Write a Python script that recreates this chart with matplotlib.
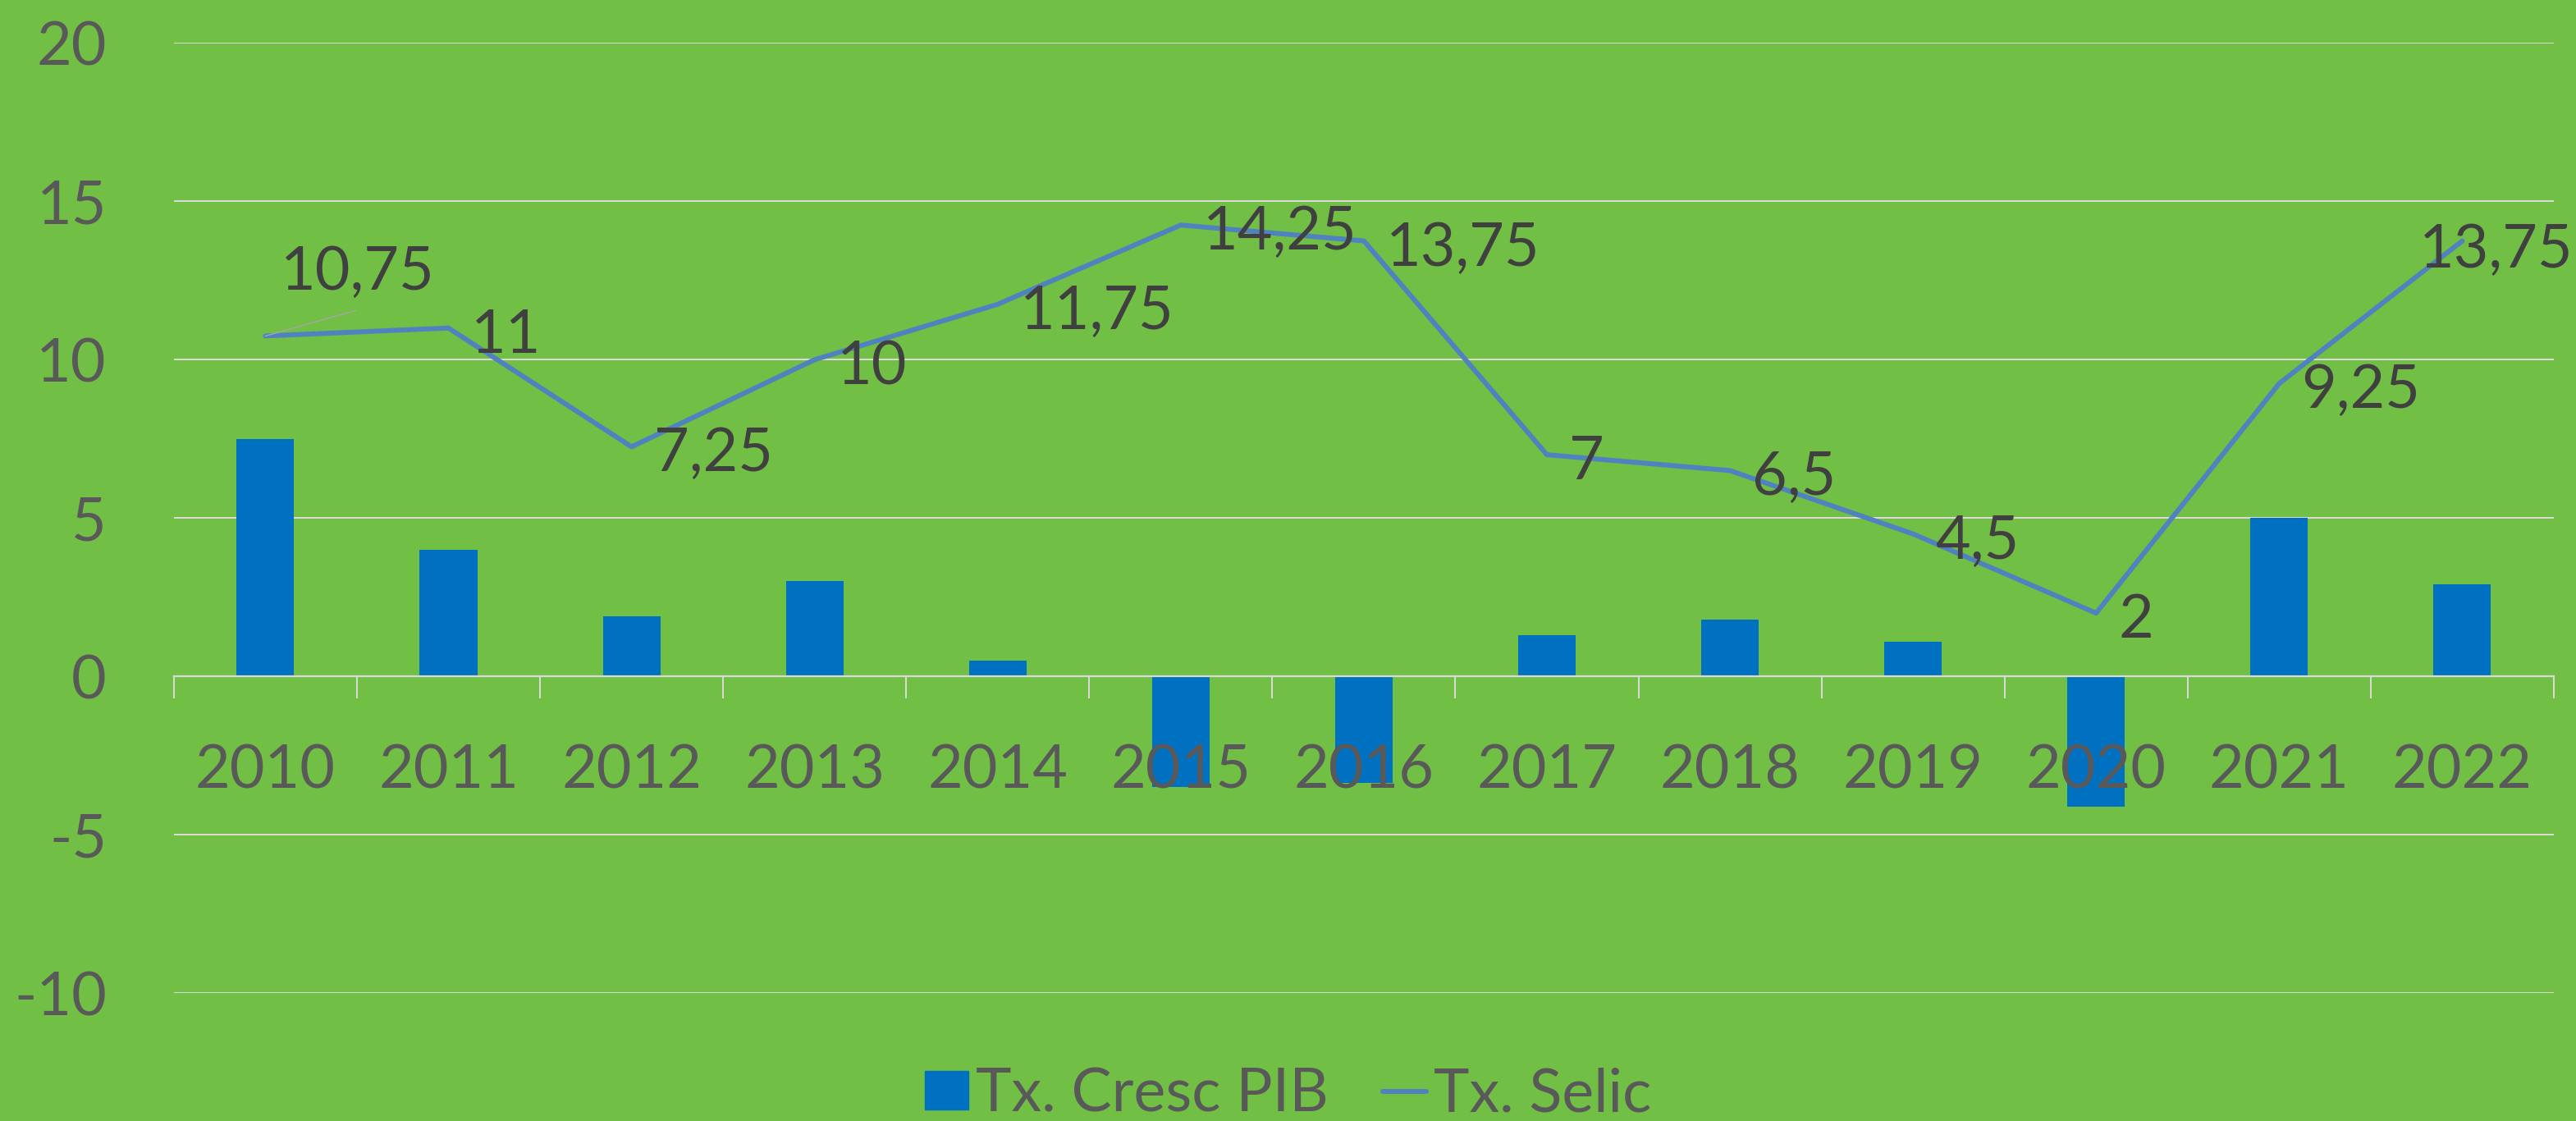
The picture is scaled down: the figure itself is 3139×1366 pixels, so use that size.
import matplotlib
matplotlib.use("Agg")
import matplotlib.pyplot as plt
from matplotlib.patches import Patch
from matplotlib.lines import Line2D
import numpy as np

plt.rcParams['font.family'] = ['Lato', 'DejaVu Sans']

years = ['2010', '2011', '2012', '2013', '2014', '2015', '2016',
         '2017', '2018', '2019', '2020', '2021', '2022']
pib = [7.5, 4.0, 1.9, 3.0, 0.5, -3.5, -3.35, 1.3, 1.8, 1.1, -4.1, 5.0, 2.9]
selic = [10.75, 11, 7.25, 10, 11.75, 14.25, 13.75, 7, 6.5, 4.5, 2, 9.25, 13.75]
series_names = ['Tx. Cresc PIB', 'Tx. Selic']
yticks = [-10, -5, 0, 5, 10, 15, 20]

BG = '#71BF45'
BAR = '#0070C0'
LINE = '#5082C0'
GRID = '#D9D9D9'
TICKTXT = '#595959'
LBLTXT = '#404040'
FS = 53
PX = 0.72  # points per pixel at dpi 100

fig = plt.figure(figsize=(31.39, 13.66), dpi=100, facecolor=BG)
ax = fig.add_axes([0.0675, 0.114, 0.9239, 0.8477])
ax.set_facecolor(BG)

x = np.arange(len(years))
ax.bar(x, pib, width=0.314, color=BAR, zorder=2)
ax.plot(x, selic, color=LINE, lw=6 * PX, zorder=3,
        solid_joinstyle='round', solid_capstyle='round')

ax.set_xlim(-0.5, len(years) - 0.5)
ax.set_ylim(-10, 20)
ax.set_yticks(yticks)
ax.set_yticklabels([str(v) for v in yticks])
ax.yaxis.grid(True, color=GRID, lw=2 * PX)
ax.set_axisbelow(True)
ax.xaxis.set_zorder(4)

for s in ['top', 'right', 'left']:
    ax.spines[s].set_visible(False)
ax.spines['bottom'].set_position(('data', 0))
ax.spines['bottom'].set_color(GRID)
ax.spines['bottom'].set_linewidth(2.2 * PX)
ax.spines['bottom'].set_zorder(4)

ax.set_xticks(x)
ax.set_xticklabels(years)
ax.set_xticks(np.arange(-0.5, len(years)), minor=True)
ax.tick_params(axis='x', which='major', length=0, pad=82 * PX,
               labelsize=FS, labelcolor=TICKTXT)
ax.tick_params(axis='x', which='minor', length=27 * PX, width=2 * PX,
               color=GRID, direction='out')
ax.tick_params(axis='y', length=0, pad=82 * PX, labelsize=FS,
               labelcolor=TICKTXT)

# data labels for Selic
for i, v in enumerate(selic):
    txt = f"{v:g}".replace('.', ',')
    if i == 0:
        ax.annotate(txt, (x[i], v), xytext=(112 * PX, 56 * PX),
                    textcoords='offset points', ha='center', va='baseline',
                    fontsize=FS, color=LBLTXT, zorder=5)
        ax.annotate('', (x[i], v), xytext=(110 * PX, 31 * PX),
                    textcoords='offset points',
                    arrowprops=dict(arrowstyle='-', color='#A6A6A6',
                                    lw=1.5 * PX, shrinkA=0, shrinkB=0))
    elif i == len(selic) - 1:
        ax.annotate(txt, (x[i], v), xytext=(-53 * PX, -32 * PX),
                    textcoords='offset points', ha='left', va='baseline',
                    fontsize=FS, color=LBLTXT, zorder=5)
    else:
        ax.annotate(txt, (x[i], v), xytext=(27 * PX, -30 * PX),
                    textcoords='offset points', ha='left', va='baseline',
                    fontsize=FS, color=LBLTXT, zorder=5)

handles = [Patch(facecolor=BAR, edgecolor=BAR),
           Line2D([], [], color=LINE, lw=6 * PX, solid_capstyle='round')]
fig.legend(handles, series_names, loc='center', bbox_to_anchor=(0.5, 0.0234),
           ncol=2, frameon=False, fontsize=FS, labelcolor=TICKTXT,
           handlelength=0.72, handleheight=0.62, handletextpad=0.12,
           columnspacing=0.9, borderaxespad=0, borderpad=0)

fig.savefig('out.png', dpi=100, facecolor=BG)
